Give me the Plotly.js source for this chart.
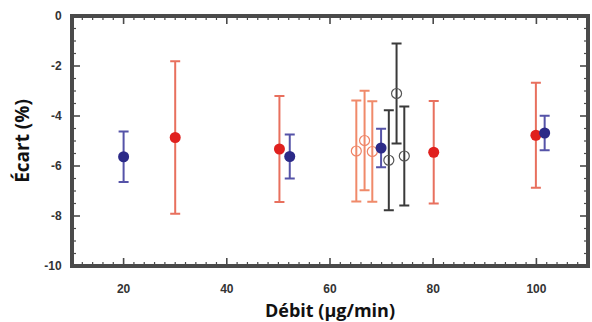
<!DOCTYPE html>
<html>
<head>
<meta charset="utf-8">
<script src="https://cdn.plot.ly/plotly-3.0.1.min.js"></script>
<style>html,body{margin:0;padding:0;background:#fff;}#chart{width:592px;height:322px;}</style>
</head>
<body>
<div id="chart"></div>
<script>
// Blue filled series
const blueX = [20, 52.2, 69.9, 101.6];
const blueY = [-5.63, -5.62, -5.28, -4.68];
const blueErr = [1.01, 0.88, 0.77, 0.69];
// Red filled series
const redX = [30, 50.2, 80.1, 99.9];
const redY = [-4.86, -5.32, -5.45, -4.77];
const redErr = [3.05, 2.12, 2.05, 2.1];
// Orange open series
const orangeX = [65.1, 66.7, 68.2];
const orangeY = [-5.4, -4.98, -5.42];
const orangeErr = [2.02, 1.99, 2.01];
// Black open series
const blackX = [71.4, 72.9, 74.4];
const blackY = [-5.77, -3.1, -5.6];
const blackErr = [2.0, 2.0, 1.98];
// Tick labels
const xTickVals = [20, 40, 60, 80, 100];
const xTickText = ['20', '40', '60', '80', '100'];
const yTickVals = [-10, -8, -6, -4, -2, 0];
const yTickText = ['-10', '-8', '-6', '-4', '-2', '0'];

const xRange = [10, 110], yRange = [-10, 0];
const xMinorStep = 2, yMinorStep = 0.5;
const W = 592, H = 322, M = {l: 72, r: 4, t: 16, b: 56};
const pxPerX = (W - M.l - M.r) / (xRange[1] - xRange[0]);
const pxPerY = (H - M.t - M.b) / (yRange[1] - yRange[0]);
const frameColor = '#4a4a4a';

function series(x, y, err, markerColor, errColor, open, size) {
  return {
    type: 'scatter', mode: 'markers', x: x, y: y,
    error_y: {type: 'data', array: err, visible: true, color: errColor, thickness: 2, width: 5},
    marker: open ? {symbol: 'circle-open', size: size, color: markerColor, line: {width: 1.2, color: markerColor}}
                 : {symbol: 'circle', size: size, color: markerColor},
    showlegend: false, hoverinfo: 'none'
  };
}

// Tick segments on all four sides (inside), built from the axis ticks
function tickTrace(xVals, yVals, lenPx, width) {
  const xs = [], ys = [];
  const dy = lenPx / pxPerY, dx = lenPx / pxPerX;
  xVals.forEach(v => {
    xs.push(v, v, null, v, v, null);
    ys.push(yRange[0], yRange[0] + dy, null, yRange[1], yRange[1] - dy, null);
  });
  yVals.forEach(v => {
    xs.push(xRange[0], xRange[0] + dx, null, xRange[1], xRange[1] - dx, null);
    ys.push(v, v, null, v, v, null);
  });
  return {type: 'scatter', mode: 'lines', x: xs, y: ys, line: {color: frameColor, width: width},
          showlegend: false, hoverinfo: 'none', connectgaps: false};
}
const xMinor = [], yMinor = [];
for (let i = 1; xRange[0] + i * xMinorStep < xRange[1]; i++) {
  const v = xRange[0] + i * xMinorStep;
  if (xTickVals.indexOf(v) < 0) xMinor.push(v);
}
for (let i = 1; yRange[0] + i * yMinorStep < yRange[1]; i++) {
  const v = yRange[0] + i * yMinorStep;
  if (yTickVals.indexOf(v) < 0) yMinor.push(v);
}
const yMajorInner = yTickVals.filter(v => v > yRange[0] && v < yRange[1]);
const frameTrace = {
  type: 'scatter', mode: 'lines',
  x: [xRange[0], xRange[1], xRange[1], xRange[0], xRange[0]],
  y: [yRange[0], yRange[0], yRange[1], yRange[1], yRange[0]],
  line: {color: frameColor, width: 4}, showlegend: false, hoverinfo: 'none'
};

const data = [
  series(orangeX, orangeY, orangeErr, '#ee8466', '#f08a6a', true, 10),
  series(blackX, blackY, blackErr, '#555555', '#3a3a3a', true, 10),
  series(redX, redY, redErr, '#e0201e', '#e8705e', false, 11),
  series(blueX, blueY, blueErr, '#2c2a88', '#5553a8', false, 11),
  tickTrace(xMinor, yMinor, 4, 1.2),
  tickTrace(xTickVals, yMajorInner, 8, 1.6),
  frameTrace
];

const bold = t => '<b>' + t + '</b>';
const tickFont = {family: 'Liberation Sans, Arial, sans-serif', size: 12, color: '#333'};
const layout = {
  width: W, height: H,
  margin: M,
  paper_bgcolor: 'white', plot_bgcolor: 'white',
  xaxis: {
    range: xRange, tickmode: 'array', tickvals: xTickVals, ticktext: xTickText.map(bold),
    ticks: '', showline: true, linecolor: frameColor, linewidth: 2, mirror: true,
    showgrid: false, zeroline: false, tickfont: tickFont, ticklabelstandoff: 11,
    title: {text: bold('Débit (µg/min)'), font: {family: 'Open Sans, sans-serif', size: 18, color: '#111'}, standoff: 12}
  },
  yaxis: {
    range: yRange, tickmode: 'array', tickvals: yTickVals, ticktext: yTickText.map(bold),
    ticks: '', showline: true, linecolor: frameColor, linewidth: 2, mirror: true,
    showgrid: false, zeroline: false, tickfont: tickFont, ticklabelstandoff: 6,
    title: {text: bold('Écart (%)'), font: {family: 'Open Sans, sans-serif', size: 19, color: '#111'}, standoff: 10}
  }
};

Plotly.newPlot('chart', data, layout, {displayModeBar: false});
</script>
</body>
</html>
